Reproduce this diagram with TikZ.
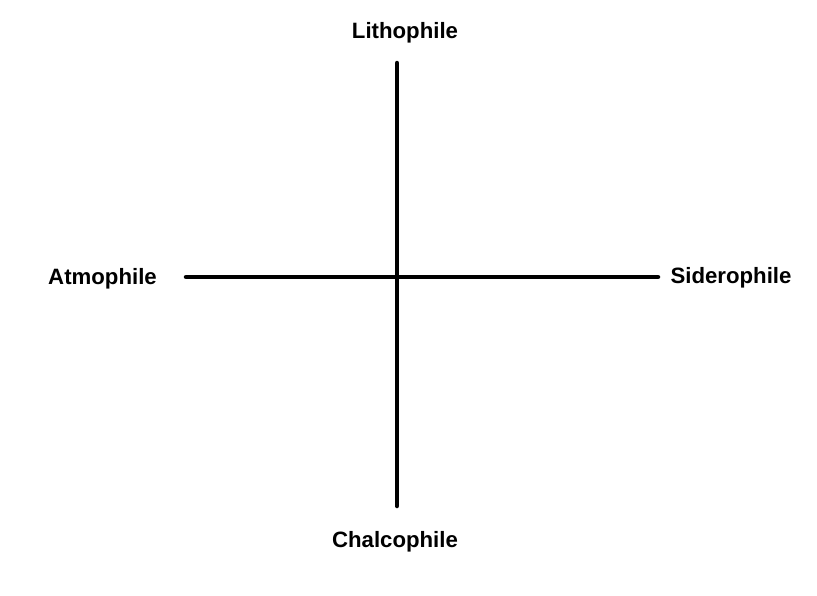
\documentclass[tikz,border=0pt]{standalone}
\usepackage{fontspec}
\setmainfont{Liberation Sans}
\usepackage{tikz}
\usetikzlibrary{positioning}

\begin{document}
\begin{tikzpicture}[x=1pt, y=-1pt, every node/.style={font=\bfseries\fontsize{22.2}{26}\selectfont, inner sep=0pt, anchor=base}, axis/.style={line width=4.5pt, line cap=round}]
    \useasboundingbox (0,0) rectangle (817,595);
    % the four end members
    \node (litho) at (405,38) {Lithophile};
    \node (chalco) at (395,547) {Chalcophile};
    \node (atmo) at (102.5,284) {Atmophile};
    \node (sidero) at (731,283) {Siderophile};
    % ends of the two axes
    \coordinate (top) at (397,63);
    \coordinate (bottom) at (397,506);
    \coordinate (left) at (186,277);
    \coordinate (right) at (658,277);
    \draw[axis] (top) -- (bottom);
    \draw[axis] (left) -- (right);
  \end{tikzpicture}
\end{document}
